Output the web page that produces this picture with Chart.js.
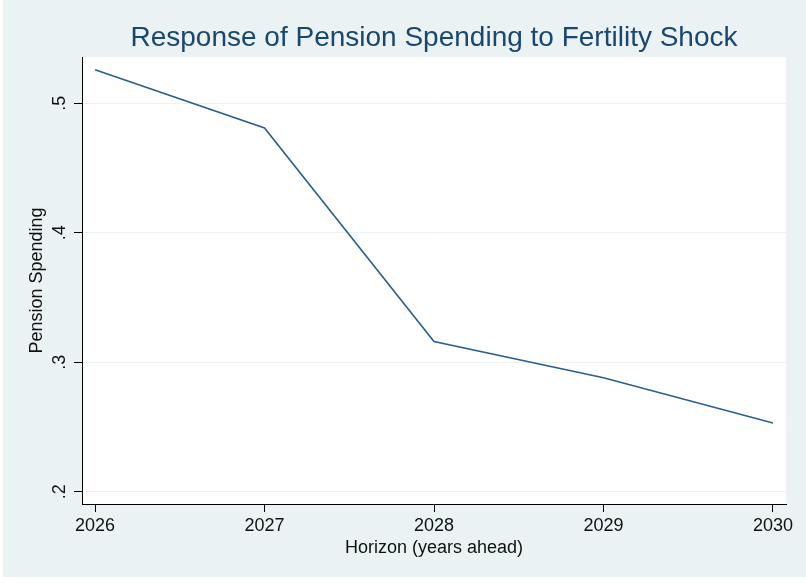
<!DOCTYPE html>
<html>
<head>
<meta charset="utf-8">
<script src="https://cdn.jsdelivr.net/npm/chart.js@4.4.1/dist/chart.umd.min.js"></script>
<style>
  html, body { margin: 0; padding: 0; background: #ffffff; }
  #wrap { position: absolute; left: 3px; top: 0px; width: 803px; height: 577px; background: #EAF2F3; }
  canvas { display: block; }
</style>
</head>
<body>
<div id="wrap"><canvas id="c" width="803" height="577"></canvas></div>
<script>
const chartTitle = 'Response of Pension Spending to Fertility Shock';
const xAxisTitle = 'Horizon (years ahead)';
const yAxisTitle = 'Pension Spending';
const years = [2026, 2027, 2028, 2029, 2030];
const pensionSpending = [0.526, 0.481, 0.316, 0.288, 0.253];
const xTickValues = [2026, 2027, 2028, 2029, 2030];
const xTickLabels = ['2026', '2027', '2028', '2029', '2030'];
const yTickValues = [0.2, 0.3, 0.4, 0.5];
const yTickLabels = ['.2', '.3', '.4', '.5'];

const FONT = '"Liberation Sans", Arial, Helvetica, sans-serif';

const plotBg = {
  id: 'plotBg',
  beforeDraw(chart) {
    const {ctx, chartArea: a} = chart;
    ctx.save();
    ctx.fillStyle = '#ffffff';
    ctx.fillRect(a.left, a.top, a.right - a.left, a.bottom - a.top);
    ctx.restore();
  }
};

const extraText = {
  id: 'extraText',
  afterDraw(chart) {
    const {ctx, chartArea: a} = chart;
    const ys = chart.scales.y;
    ctx.save();
    ctx.fillStyle = '#1A476F';
    ctx.font = '28px ' + FONT;
    ctx.textAlign = 'center';
    ctx.textBaseline = 'middle';
    ctx.fillText(chartTitle, (a.left + a.right) / 2, 38);
    ctx.fillStyle = '#111111';
    ctx.font = '18px ' + FONT;
    yTickValues.forEach((v, i) => {
      const py = ys.getPixelForValue(v);
      ctx.save();
      ctx.translate(57, py);
      ctx.rotate(-Math.PI / 2);
      ctx.textAlign = 'center';
      ctx.textBaseline = 'middle';
      ctx.fillText(yTickLabels[i], 0, 0);
      ctx.restore();
    });
    ctx.restore();
  }
};

new Chart(document.getElementById('c'), {
  type: 'line',
  data: {
    datasets: [{
      data: years.map((yr, i) => ({x: yr, y: pensionSpending[i]})),
      borderColor: '#27608E',
      borderWidth: 1.6,
      pointRadius: 0,
      tension: 0,
      fill: false
    }]
  },
  options: {
    responsive: false,
    animation: false,
    devicePixelRatio: 1,
    layout: { padding: { top: 57, right: 20, left: 0, bottom: 0 } },
    plugins: { legend: { display: false }, title: { display: false }, tooltip: { enabled: false } },
    scales: {
      x: {
        type: 'linear',
        min: 2025.923,
        max: 2030.077,
        afterBuildTicks(s) { s.ticks = xTickValues.map(v => ({value: v})); },
        afterFit(s) { s.height = 73; },
        ticks: {
          autoSkip: false, maxRotation: 0, minRotation: 0,
          color: '#111111',
          font: { family: FONT, size: 18 },
          padding: 3,
          callback: (v) => { const i = xTickValues.indexOf(v); return i >= 0 ? xTickLabels[i] : ''; }
        },
        grid: { drawOnChartArea: false, tickLength: 8, tickColor: '#000000', color: '#000000' },
        border: { color: '#000000', width: 1 },
        title: { display: true, text: xAxisTitle, color: '#111111', font: { family: FONT, size: 18 }, padding: { top: 0, bottom: 18 } }
      },
      y: {
        type: 'linear',
        min: 0.1905,
        max: 0.5358,
        afterBuildTicks(s) { s.ticks = yTickValues.map(v => ({value: v})); },
        afterFit(s) { s.width = 79; },
        ticks: { color: 'rgba(0,0,0,0)', font: { family: FONT, size: 18 }, callback: (v) => { const i = yTickValues.indexOf(v); return i >= 0 ? yTickLabels[i] : ''; } },
        grid: { color: '#EAF2F3', lineWidth: 1, tickLength: 8, tickColor: '#000000' },
        border: { color: '#000000', width: 1 },
        title: { display: true, text: yAxisTitle, color: '#111111', font: { family: FONT, size: 18 }, padding: { top: 23, bottom: 0 } }
      }
    }
  },
  plugins: [plotBg, extraText]
});
</script>
</body>
</html>
